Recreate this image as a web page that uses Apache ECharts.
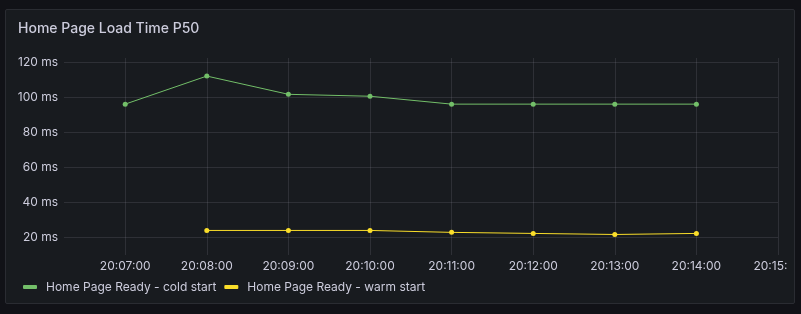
<!DOCTYPE html>
<html>
<head>
<meta charset="utf-8">
<script src="https://cdn.jsdelivr.net/npm/echarts@6/dist/echarts.min.js"></script>
<style>
  html, body { margin: 0; padding: 0; background: #111217; width: 801px; height: 314px; overflow: hidden; }
  #panel { position: absolute; left: 5px; top: 9px; width: 788px; height: 293px; background: #181b1f; border: 1px solid #2a2c32; border-radius: 2px; }
  #chart { position: absolute; left: 0; top: 0; width: 787px; height: 314px; }
</style>
</head>
<body>
<div id="panel"></div>
<div id="chart"></div>
<script>
// ---- data ----
const times = ['20:07:00', '20:08:00', '20:09:00', '20:10:00', '20:11:00', '20:12:00', '20:13:00', '20:14:00'];
const coldStart = [96, 112, 101.6, 100.5, 96, 96, 96, 96];
const warmStart = [null, 24, 24, 24, 22.9, 22.3, 21.7, 22.3];
const yTicks = [20, 40, 60, 80, 100, 120];
const xTicks = ['20:07:00', '20:08:00', '20:09:00', '20:10:00', '20:11:00', '20:12:00', '20:13:00', '20:14:00', '20:15:00'];
const seriesNames = ['Home Page Ready - cold start', 'Home Page Ready - warm start'];
const xRange = ['20:06:15', '20:15:00'];
const yRange = [10, 122.3];

// ---- helpers ----
function toSec(t) { const p = t.split(':').map(Number); return p[0] * 3600 + p[1] * 60 + p[2]; }
function fmt(s) {
  const h = Math.floor(s / 3600), m = Math.floor((s % 3600) / 60), sec = Math.round(s % 60);
  const z = n => (n < 10 ? '0' : '') + n;
  return z(h) + ':' + z(m) + ':' + z(sec);
}
const xs = times.map(toSec);
const pair = arr => arr.map((v, i) => [xs[i], v]).filter(p => p[1] !== null);

const textColor = '#ccccdc';
const gridColor = 'rgba(204,204,220,0.12)';
const font = 'Inter, "Noto Sans", sans-serif';

const chart = echarts.init(document.getElementById('chart'), null, { renderer: 'canvas' });
chart.setOption({
  backgroundColor: 'transparent',
  animation: false,
  textStyle: { fontFamily: font },
  title: {
    text: 'Home Page Load Time P50',
    left: 13, top: 17,
    textStyle: { color: textColor, fontSize: 14, fontWeight: 500, fontFamily: font }
  },
  legend: {
    left: 18, top: 276,
    itemWidth: 14, itemHeight: 4, itemGap: 8,
    icon: 'roundRect',
    textStyle: { color: textColor, fontSize: 12, fontFamily: font, padding: [0, 0, 0, 4] },
    data: seriesNames
  },
  grid: { left: 64, right: 9, top: 58, bottom: 59, containLabel: false, outerBoundsMode: 'none' },
  xAxis: {
    type: 'value',
    min: toSec(xRange[0]), max: toSec(xRange[1]),
    axisLine: { show: false },
    axisTick: { show: false, customValues: xTicks.map(toSec) },
    axisLabel: { color: textColor, fontSize: 12, margin: 5, fontFamily: font, customValues: xTicks.map(toSec), formatter: v => fmt(v), hideOverlap: false },
    splitLine: { show: true, lineStyle: { color: gridColor, width: 1 } }
  },
  yAxis: {
    type: 'value',
    min: yRange[0], max: yRange[1],
    axisLine: { show: false },
    axisTick: { show: false, customValues: yTicks },
    axisLabel: { color: textColor, fontSize: 12, margin: 6, fontFamily: font, customValues: yTicks, formatter: v => v + ' ms' },
    splitLine: { show: true, lineStyle: { color: gridColor, width: 1 } }
  },
  series: [
    {
      name: seriesNames[0], type: 'line', data: pair(coldStart),
      color: '#73bf69', symbol: 'circle', symbolSize: 5, showSymbol: true,
      lineStyle: { width: 1 }, itemStyle: { color: '#73bf69' }
    },
    {
      name: seriesNames[1], type: 'line', data: pair(warmStart),
      color: '#fade2a', symbol: 'circle', symbolSize: 5, showSymbol: true,
      lineStyle: { width: 1 }, itemStyle: { color: '#fade2a' }
    }
  ]
});
</script>
</body>
</html>
